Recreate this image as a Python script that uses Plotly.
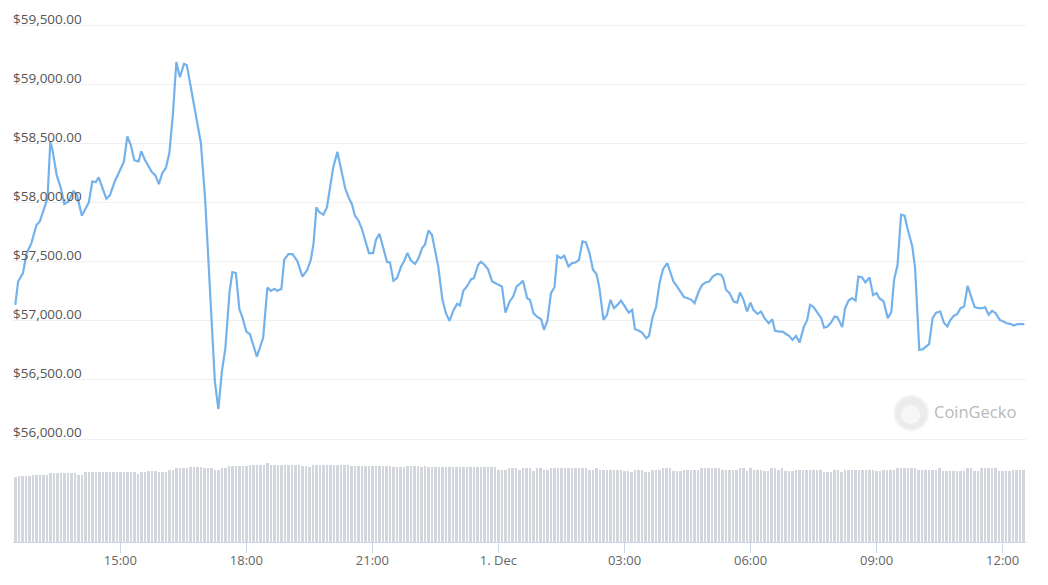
import pandas as pd
import plotly.graph_objects as go

# ---- data ----
BASE = "2021-11-30 12:00"
# price samples: minutes after BASE and price in USD
price_minutes = [30, 34, 41, 46, 53, 60, 65, 71, 76, 80, 83, 89, 95, 100, 106, 113, 118, 125, 132, 135,
                 140, 145, 149, 160, 165, 172, 177, 185, 190, 195, 200, 206, 210, 215, 225, 230, 235, 240, 245, 250,
                 255, 260, 265, 271, 275, 280, 289, 295, 301, 307, 313, 315, 320, 325, 330, 336, 340, 345, 350, 354,
                 360, 365, 375, 384, 390, 395, 400, 404, 410, 414, 420, 426, 433, 440, 447, 452, 456, 460, 464, 470,
                 475, 481, 484, 490, 495, 501, 506, 511, 515, 520, 525, 531, 535, 541, 545, 550, 556, 561, 565, 570,
                 575, 581, 585, 590, 595, 601, 606, 611, 615, 620, 625, 630, 634, 640, 645, 650, 656, 661, 665, 670,
                 675, 681, 685, 691, 695, 700, 705, 711, 715, 721, 725, 730, 736, 741, 746, 751, 755, 761, 765, 770,
                 775, 781, 785, 790, 795, 800, 804, 809, 814, 820, 825, 830, 835, 840, 845, 850, 855, 860, 864, 870,
                 875, 880, 885, 890, 895, 900, 906, 911, 915, 920, 925, 931, 935, 940, 945, 950, 955, 961, 965, 970,
                 975, 981, 985, 990, 995, 1000, 1006, 1011, 1016, 1021, 1026, 1032, 1038, 1041, 1045, 1050, 1056, 1061, 1065, 1070,
                 1075, 1080, 1084, 1090, 1095, 1100, 1106, 1111, 1115, 1121, 1126, 1131, 1135, 1140, 1145, 1150, 1156, 1161, 1165, 1170,
                 1175, 1181, 1185, 1190, 1195, 1200, 1204, 1211, 1215, 1220, 1225, 1230, 1234, 1239, 1244, 1250, 1255, 1260, 1264, 1270,
                 1276, 1281, 1285, 1290, 1295, 1300, 1304, 1311, 1315, 1321, 1326, 1331, 1335, 1340, 1345, 1351, 1356, 1361, 1365, 1370,
                 1375, 1380, 1385, 1390, 1395, 1400, 1406, 1411, 1415, 1420, 1425, 1430, 1436, 1441, 1446, 1451, 1456, 1461, 1465, 1471]
prices = [57135, 57333, 57404, 57570, 57658, 57808, 57842, 57954, 58040, 58514, 58449, 58237, 58124, 57989, 58011, 58096, 58068, 57890, 57969, 58003,
          58180, 58175, 58214, 58034, 58062, 58180, 58243, 58345, 58562, 58486, 58358, 58350, 58435, 58364, 58260, 58231, 58158, 58252, 58294, 58421,
          58746, 59192, 59062, 59175, 59164, 59000, 58731, 58506, 58040, 57418, 56712, 56486, 56254, 56570, 56769, 57248, 57413, 57404, 57099, 57036,
          56909, 56887, 56697, 56858, 57282, 57254, 57271, 57254, 57269, 57517, 57565, 57565, 57503, 57375, 57432, 57517, 57658, 57960, 57921, 57898,
          57960, 58180, 58299, 58430, 58280, 58124, 58045, 57983, 57890, 57850, 57777, 57644, 57574, 57574, 57686, 57737, 57602, 57496, 57496, 57339,
          57362, 57460, 57503, 57574, 57511, 57483, 57531, 57616, 57644, 57765, 57729, 57587, 57460, 57178, 57065, 57000, 57093, 57144, 57130, 57257,
          57291, 57353, 57362, 57475, 57500, 57475, 57438, 57333, 57319, 57305, 57291, 57070, 57164, 57206, 57291, 57315, 57339, 57192, 57178, 57065,
          57036, 57014, 56924, 57003, 57235, 57285, 57551, 57531, 57551, 57460, 57489, 57494, 57517, 57672, 57664, 57574, 57432, 57396, 57285, 57008,
          57051, 57178, 57107, 57135, 57172, 57127, 57070, 57093, 56929, 56918, 56901, 56853, 56873, 57031, 57116, 57319, 57438, 57489, 57410, 57333,
          57291, 57235, 57201, 57192, 57180, 57150, 57248, 57305, 57325, 57333, 57375, 57398, 57390, 57362, 57263, 57235, 57164, 57155, 57240, 57178,
          57079, 57155, 57093, 57059, 57079, 57023, 56980, 57014, 56915, 56909, 56909, 56887, 56873, 56839, 56873, 56816, 56947, 57008, 57135, 57116,
          57070, 57023, 56943, 56952, 56986, 57036, 57031, 56947, 57107, 57172, 57192, 57172, 57375, 57370, 57325, 57367, 57218, 57235, 57192, 57164,
          57023, 57074, 57347, 57475, 57898, 57890, 57785, 57630, 57447, 56754, 56760, 56788, 56803, 57023, 57070, 57079, 56986, 56952, 57003, 57042,
          57057, 57107, 57121, 57297, 57206, 57116, 57107, 57107, 57116, 57051, 57085, 57065, 57008, 56994, 56980, 56975, 56961, 56972, 56972, 56972]

# volume bars every 5 minutes starting at minute 30 (billions USD)
volume_start_minute = 30
volume_step_minutes = 5
volumes = [
    32.3, 33.0, 33.0, 33.0, 33.0, 33.5, 33.5, 33.5, 33.5, 33.5, 34.3, 34.3,
    34.3, 34.3, 34.3, 34.3, 34.3, 34.3, 33.5, 33.5, 35.0, 35.0, 35.0, 35.0,
    35.0, 35.0, 35.0, 35.0, 35.0, 35.0, 35.0, 35.0, 35.0, 35.0, 35.0, 34.2,
    35.0, 35.0, 35.5, 35.5, 35.5, 35.0, 35.0, 35.0, 35.8, 35.8, 36.8, 36.8,
    36.8, 36.8, 37.5, 37.5, 37.5, 37.5, 36.8, 36.8, 36.8, 36.0, 36.0, 37.2,
    37.2, 38.0, 38.0, 38.0, 38.0, 38.0, 38.0, 38.7, 38.7, 38.7, 38.7, 38.7,
    39.3, 38.7, 38.7, 38.7, 38.7, 38.7, 38.7, 38.7, 38.7, 38.7, 38.0, 38.0,
    37.3, 38.7, 38.7, 38.7, 38.7, 38.7, 38.7, 38.7, 38.7, 38.7, 38.7, 38.7,
    38.0, 38.0, 38.0, 38.0, 38.0, 38.0, 38.0, 38.0, 38.0, 38.0, 38.0, 38.0,
    37.3, 37.3, 37.3, 37.3, 38.0, 38.0, 38.0, 38.0, 37.3, 38.0, 37.3, 37.3,
    37.3, 37.3, 37.3, 37.3, 37.3, 37.3, 37.3, 37.3, 37.3, 37.3, 37.3, 37.3,
    37.3, 37.3, 37.3, 37.3, 37.3, 37.3, 36.2, 36.2, 36.2, 36.8, 36.8, 36.8,
    36.2, 36.8, 36.8, 36.8, 35.5, 36.8, 36.8, 36.2, 36.2, 36.8, 36.8, 36.8,
    36.8, 36.8, 36.8, 36.8, 36.8, 36.8, 36.8, 36.8, 36.2, 36.2, 36.8, 36.2,
    36.2, 36.2, 36.2, 36.2, 36.2, 36.2, 35.5, 35.5, 34.8, 36.2, 36.2, 36.2,
    34.8, 34.8, 36.2, 36.2, 36.2, 36.8, 36.8, 36.8, 35.5, 35.5, 35.5, 36.2,
    36.2, 36.2, 36.2, 36.2, 36.8, 36.8, 36.8, 36.8, 36.8, 36.8, 36.2, 36.2,
    36.2, 36.2, 36.2, 36.8, 36.8, 35.5, 36.8, 36.2, 36.2, 36.2, 35.5, 35.5,
    36.8, 36.8, 36.2, 36.8, 35.5, 35.5, 35.5, 36.2, 36.2, 36.2, 36.2, 36.2,
    36.2, 36.2, 36.2, 34.8, 34.8, 34.8, 35.8, 35.8, 34.8, 36.2, 36.2, 36.2,
    36.2, 36.2, 36.2, 36.2, 36.2, 36.2, 35.5, 35.5, 36.2, 36.2, 36.2, 36.2,
    36.8, 36.8, 36.8, 36.8, 36.8, 36.8, 36.2, 36.2, 36.2, 36.2, 36.2, 36.2,
    36.8, 35.5, 35.5, 35.5, 35.5, 35.5, 35.5, 35.5, 36.8, 36.8, 35.5, 35.5,
    36.8, 36.8, 36.8, 36.8, 36.8, 35.5, 35.5, 35.5, 35.5, 36.2, 36.2, 36.2, 36.2,
]

y_tick_values = [56000, 56500, 57000, 57500, 58000, 58500, 59000, 59500]
y_tick_labels = ["$56,000.00", "$56,500.00", "$57,000.00", "$57,500.00",
                 "$58,000.00", "$58,500.00", "$59,000.00", "$59,500.00"]
x_tick_values = ["2021-11-30 15:00", "2021-11-30 18:00", "2021-11-30 21:00", "2021-12-01 00:00",
                 "2021-12-01 03:00", "2021-12-01 06:00", "2021-12-01 09:00", "2021-12-01 12:00"]
x_tick_labels = ["15:00", "18:00", "21:00", "1. Dec", "03:00", "06:00", "09:00", "12:00"]

# ---- build ----
base = pd.Timestamp(BASE)
price_times = base + pd.to_timedelta(price_minutes, unit="m")
vol_times = base + pd.to_timedelta(
    [volume_start_minute + volume_step_minutes * i for i in range(len(volumes))], unit="m")

FONT = "Open Sans, Liberation Sans, Arial, sans-serif"

fig = go.Figure()
fig.add_trace(go.Bar(
    x=vol_times, y=volumes, yaxis="y2",
    marker=dict(color="#d3d6dc", line=dict(width=0)),
    width=222000, hoverinfo="skip", showlegend=False,
))
fig.add_trace(go.Scatter(
    x=price_times, y=prices, mode="lines",
    line=dict(color="#74b2eb", width=2.2), showlegend=False,
))

fig.update_layout(
    width=1048, height=585,
    margin=dict(l=13, r=22, t=5, b=43),
    paper_bgcolor="white", plot_bgcolor="white",
    font=dict(family=FONT, size=13, color="#555555"),
    bargap=0,
    xaxis=dict(
        type="date",
        range=[base + pd.Timedelta(minutes=26.7), base + pd.Timedelta(minutes=1473.4)],
        tickvals=x_tick_values, ticktext=x_tick_labels,
        showgrid=False, zeroline=False,
        showline=True, linecolor="#ccd6eb", linewidth=1,
        ticks="outside", ticklen=10, tickcolor="#ccd6eb", tickwidth=1,
        ticklabelstandoff=-4,
        tickfont=dict(size=13, color="#666666"),
    ),
    yaxis=dict(
        range=[55128.2, 59673.5],
        tickvals=y_tick_values, ticktext=y_tick_labels,
        ticklabelposition="inside top",
        ticklabelshift=3,
        ticklabelstandoff=-3,
        showgrid=True, gridcolor="#f0f0f0", gridwidth=1,
        zeroline=False, showline=False, ticks="",
        tickfont=dict(size=13.5, color="#555555"),
    ),
    yaxis2=dict(
        overlaying="y", range=[0, 268.5],
        showgrid=False, zeroline=False, showticklabels=False, showline=False,
    ),
    shapes=[
        dict(type="circle", xref="paper", yref="paper", xsizemode="pixel", ysizemode="pixel",
             xanchor=0.8867, yanchor=0.2402, x0=-17, x1=17, y0=-17, y1=17,
             fillcolor="#ebebeb", line=dict(color="#f4f4f4", width=2), layer="above"),
        dict(type="circle", xref="paper", yref="paper", xsizemode="pixel", ysizemode="pixel",
             xanchor=0.8867, yanchor=0.2402, x0=-10, x1=9, y0=-11, y1=8,
             fillcolor="#f6f6f6", line=dict(width=0), layer="above"),
    ],
    annotations=[
        dict(text="CoinGecko", xref="paper", yref="paper", x=0.9075, y=0.2421,
             xanchor="left", yanchor="middle", showarrow=False,
             font=dict(family=FONT, size=16.5, color="#b9b9b9")),
    ],
)

fig.write_html("out.html", config={"displayModeBar": False},
               post_script="document.body.style.margin='0';document.body.style.padding='0';")
